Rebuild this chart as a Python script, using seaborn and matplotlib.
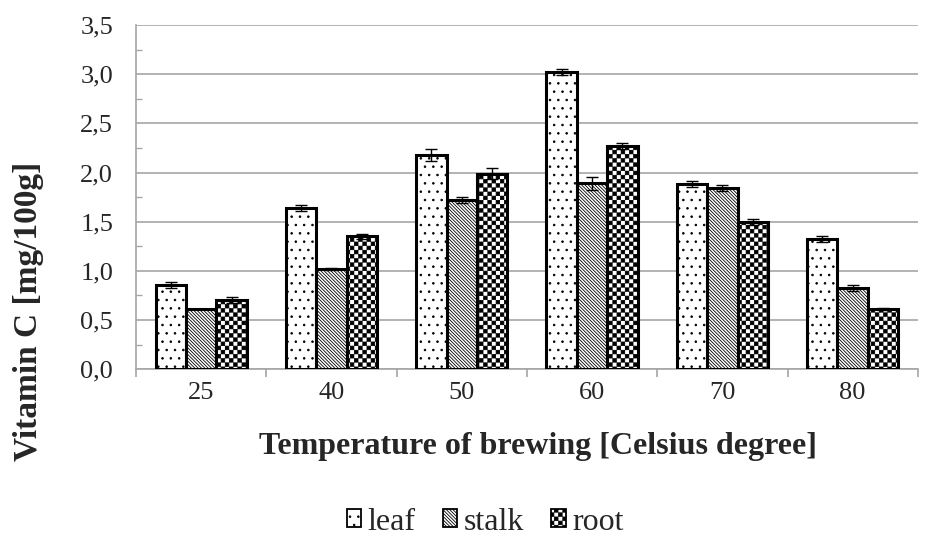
import numpy as np
import pandas as pd
import matplotlib
matplotlib.use("Agg")
import matplotlib.pyplot as plt
import matplotlib.patches as mpatches
from matplotlib import hatch as mhatch
from matplotlib.path import Path
from matplotlib.ticker import MultipleLocator, FuncFormatter
import seaborn as sns

# Data
temperatures = ["25", "40", "50", "60", "70", "80"]
parts = ["leaf", "stalk", "root"]
leaf = [0.86, 1.64, 2.18, 3.02, 1.88, 1.32]
stalk = [0.61, 1.02, 1.72, 1.89, 1.84, 0.83]
root = [0.70, 1.35, 1.99, 2.27, 1.50, 0.61]
leaf_err = [0.03, 0.03, 0.06, 0.03, 0.03, 0.03]
stalk_err = [0.00, 0.01, 0.03, 0.07, 0.03, 0.03]
root_err = [0.03, 0.03, 0.06, 0.03, 0.03, 0.01]


# checkerboard hatch (takes the place of the 'O' circles)
class CheckerHatch(mhatch.HatchPatternBase):
    def __init__(self, hatch, density):
        self.n = int(hatch.count('O') * density)
        self.num_vertices = (self.n * self.n // 2) * 5 if self.n else 0

    def set_vertices_and_codes(self, vertices, codes):
        s = 1.0 / self.n
        d = 0.08 * s
        k = 0
        for i in range(self.n):
            for j in range(self.n):
                if (i + j) % 2:
                    continue
                x0, y0 = i * s + d, j * s + d
                x1, y1 = (i + 1) * s - d, (j + 1) * s - d
                vertices[k:k + 5] = [(x0, y0), (x1, y0), (x1, y1), (x0, y1), (x0, y0)]
                codes[k:k + 5] = [Path.MOVETO, Path.LINETO, Path.LINETO,
                                  Path.LINETO, Path.CLOSEPOLY]
                k += 5


mhatch._hatch_types = [t for t in mhatch._hatch_types
                       if t is not mhatch.LargeCircles] + [CheckerHatch]

hatches = {"leaf": "..", "stalk": "\\" * 10, "root": "OOOO"}

df = pd.DataFrame({
    "temp": temperatures * 3,
    "part": [p for p in parts for _ in temperatures],
    "vitc": leaf + stalk + root,
    "err": leaf_err + stalk_err + root_err,
})

sns.set_style("white")
plt.rcParams["font.family"] = ["Liberation Serif", "DejaVu Serif"]
plt.rcParams["hatch.linewidth"] = 0.6

fig, ax = plt.subplots(figsize=(9.28, 5.35), dpi=100)
fig.subplots_adjust(left=0.1466, right=0.989, top=0.953, bottom=0.310)

sns.barplot(data=df, x="temp", y="vitc", hue="part", order=temperatures,
            hue_order=parts, palette={p: "white" for p in parts},
            edgecolor="black", linewidth=2.2, width=0.7, errorbar=None,
            legend=False, ax=ax, zorder=3)

for part, cont in zip(parts, ax.containers):
    sub = df[df["part"] == part].set_index("temp").loc[temperatures]
    xs = []
    for bar in cont:
        bar.set_hatch(hatches[part])
        xs.append(bar.get_x() + bar.get_width() / 2)
    ax.errorbar(xs, sub["vitc"], yerr=sub["err"], fmt="none", ecolor="black",
                elinewidth=1, capsize=4.5, capthick=1, zorder=4)

ax.set_ylim(0, 3.5)
ax.set_xlim(-0.5, len(temperatures) - 0.5)
ax.yaxis.set_major_locator(MultipleLocator(0.5))
ax.yaxis.set_minor_locator(MultipleLocator(0.25))
ax.yaxis.set_major_formatter(FuncFormatter(lambda v, _: f"{v:.1f}".replace(".", ",")))
ax.grid(axis="y", color="#a6a6a6", linewidth=1.2, zorder=0)
ax.set_axisbelow(True)

for side in ["top", "right"]:
    ax.spines[side].set_visible(False)
for side in ["left", "bottom"]:
    ax.spines[side].set_color("#a6a6a6")
    ax.spines[side].set_linewidth(1.2)

ax.tick_params(axis="y", which="major", direction="out", length=6.5,
               color="#a6a6a6", width=1.2, labelsize=19, pad=10)
ax.tick_params(axis="y", which="minor", direction="in", length=4.5,
               color="#a6a6a6", width=1, left=True)
# x ticks sit between the groups
ax.set_xticks(np.arange(len(temperatures) + 1) - 0.5, minor=True)
ax.tick_params(axis="x", which="major", length=0, labelsize=19, pad=9)
ax.tick_params(axis="x", which="minor", direction="out", length=6,
               color="#a6a6a6", width=1.2, bottom=True)

ax.set_ylabel("Vitamin C [mg/100g]", fontsize=24, fontweight="bold")
ax.set_xlabel("Temperature of brewing [Celsius degree]", fontsize=23,
              fontweight="bold")
ax.yaxis.set_label_coords(-0.118, 0.169)
ax.xaxis.set_label_coords(0.514, -0.184)

handles = [mpatches.Patch(facecolor="white", edgecolor="black", linewidth=1.3,
                          hatch=hatches[p], label=p) for p in parts]
fig.legend(handles=handles, loc="center", bbox_to_anchor=(0.523, 0.024),
           ncol=3, frameon=False, fontsize=23, handlelength=0.45,
           handleheight=0.48, handletextpad=0.2, columnspacing=0.85)

fig.savefig("out.png", dpi=100)
